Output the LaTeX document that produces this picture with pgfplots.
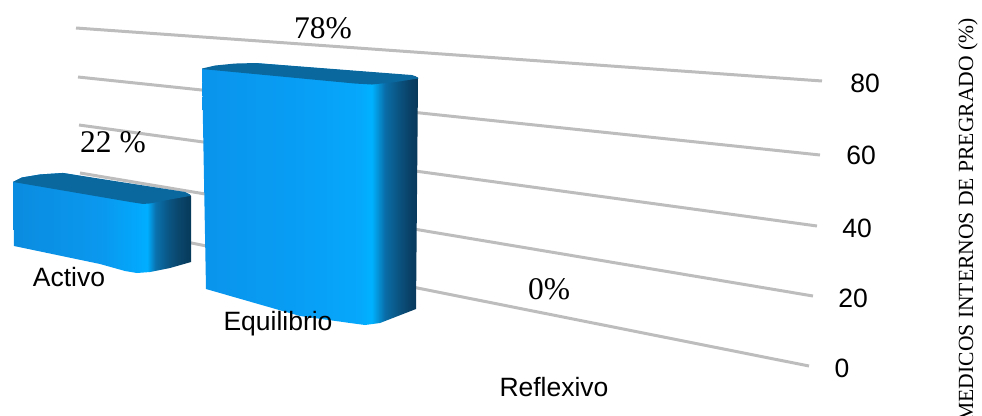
\documentclass[border=0pt]{standalone}
\usepackage{fontspec}
\usepackage{pgfplots}
\pgfplotsset{compat=1.18}
\newfontfamily\labelfont{Liberation Sans}
\newfontfamily\notefont{Liberation Serif}

% Bar values (%) and the drop in drawing units per percentage point
\newcommand{\ValActivo}{22}
\newcommand{\ValEquilibrio}{78}
\newcommand{\ValReflexivo}{0}
\newcommand{\UnitsPerPct}{2.82}

\definecolor{gridgrey}{HTML}{BDBDBD}
\definecolor{topface}{HTML}{0A689F}

\definecolor{aA}{HTML}{0A8CE0}
\definecolor{aB}{HTML}{0A98EE}
\definecolor{aC}{HTML}{02A8FC}
\definecolor{aD}{HTML}{00AEFF}
\definecolor{aE}{HTML}{0A72AE}
\definecolor{aF}{HTML}{0A5685}
\definecolor{aH}{HTML}{0A466C}
\definecolor{aG}{HTML}{063A5A}
\pgfdeclarehorizontalshading{activoshade}{100bp}{
  color(0bp)=(aA); color(25bp)=(aA); color(49.6bp)=(aB); color(60bp)=(aC);
  color(62.7bp)=(aD); color(65bp)=(aE); color(68.5bp)=(aF); color(71.5bp)=(aH);
  color(75bp)=(aG); color(100bp)=(aG)}

\definecolor{eA}{HTML}{0A94EC}
\definecolor{eB}{HTML}{089EF5}
\definecolor{eC}{HTML}{06A8FC}
\definecolor{eD}{HTML}{00B2FF}
\definecolor{eE}{HTML}{0A6CA6}
\definecolor{eF}{HTML}{0A5482}
\definecolor{eH}{HTML}{0A4066}
\definecolor{eG}{HTML}{08385A}
\pgfdeclarehorizontalshading{equilibrioshade}{100bp}{
  color(0bp)=(eA); color(25bp)=(eA); color(47.7bp)=(eB); color(61.5bp)=(eC);
  color(64.3bp)=(eD); color(67.4bp)=(eE); color(70.4bp)=(eF); color(73.1bp)=(eH);
  color(75bp)=(eG); color(100bp)=(eG)}

\tikzset{
  gridline/.style={draw=gridgrey, line width=3pt},
  sans/.style={font=\labelfont\fontsize{26.5}{30}\selectfont, inner sep=0pt, text=black},
  serif/.style={font=\notefont\fontsize{31.5}{36}\selectfont, inner sep=0pt, text=black},
}

\begin{document}
\begin{tikzpicture}[x=1pt,y=1pt]
\path[use as bounding box] (0,0) rectangle (982pt,415pt);
\begin{axis}[
  at={(0,0)}, anchor=south west,
  scale only axis, width=982pt, height=415pt,
  xmin=0, xmax=982, ymin=0, ymax=415,
  y dir=reverse,
  hide axis, clip=false,
  every axis plot/.append style={no markers},
]
% Receding value lines: 80, 60, 40, 20, 0
\addplot[gridline] coordinates {(76,28) (822,81)};
\addplot[gridline] coordinates {(78,77) (820,155)};
\addplot[gridline] coordinates {(79,125) (817,226)};
\addplot[gridline] coordinates {(80,173) (813,296)};
\addplot[gridline] coordinates {(81,221) (809,366)};

% Activo: outline, k=1 rows rise with the value
\addplot[shading=activoshade, draw=none] table[x=x, y expr=\thisrow{base}-\thisrow{k}*\ValActivo*\UnitsPerPct] {
x   base  k
13  244.0 1
14  246   0
100 264   0
125 271   0
137 273   0
150 272   0
170 268   0
191 262   0
191 258   1
190 257.0 1
63  235.0 1
40  236.5 1
22  239.5 1
13  244.0 1
};
\addplot[fill=topface, draw=none] table[x=x, y expr=\thisrow{base}-\thisrow{k}*\ValActivo*\UnitsPerPct] {
x   base  k
13  244.0 1
22  239.5 1
40  236.5 1
63  235.0 1
185 254.0 1
190 256.5 1
190 258.0 1
170 261.5 1
150 265.5 1
143 266.0 1
130 264.0 1
13  244.0 1
};

% Equilibrio: outline, k=1 rows rise with the value
\addplot[shading=equilibrioshade, draw=none] table[x=x, y expr=\thisrow{base}-\thisrow{k}*\ValEquilibrio*\UnitsPerPct] {
x   base  k
202 289   1
206 289   0
300 316   0
350 323   0
365 325   0
380 323   0
416 309   0
418 298   1
415 296   1
255 283   1
215 286   1
202 289   1
};
\addplot[fill=topface, draw=none] table[x=x, y expr=\thisrow{base}-\thisrow{k}*\ValEquilibrio*\UnitsPerPct] {
x   base  k
202 288.5 1
215 285.5 1
235 283.5 1
256 283   1
412 295   1
418 297.5 1
418 298.5 1
395 302   1
372 304.5 1
355 303.5 1
202 289   1
};

% Reflexivo carries no height: a zero-value bar
\addplot[draw=none] table[x=x, y expr=\thisrow{base}-\ValReflexivo*\UnitsPerPct] {
x   base
520 330
};

% Value-scale labels at the far end of each line
\node[sans] at (axis cs:865,83) {80};
\node[sans] at (axis cs:861,155) {60};
\node[sans] at (axis cs:857,228) {40};
\node[sans] at (axis cs:853,298) {20};
\node[sans] at (axis cs:842,368) {0};

% Category names
\node[sans] at (axis cs:69,277) {Activo};
\node[sans] at (axis cs:278,324) {Equilibrio};
\node[sans] at (axis cs:554,387) {Reflexivo};

% Value annotations
\node[serif] at (axis cs:323,28) {78\%};
\node[serif] at (axis cs:113,142) {22 \%};
\node[serif] at (axis cs:549,289) {0\%};

% Vertical title, running off the lower edge
\node[font=\notefont\fontsize{21.6}{26}\selectfont, rotate=90, anchor=base east, inner sep=0pt]
  at (axis cs:973,18) {MEDICOS INTERNOS DE PREGRADO (\%)};
\end{axis}
\end{tikzpicture}
\end{document}
